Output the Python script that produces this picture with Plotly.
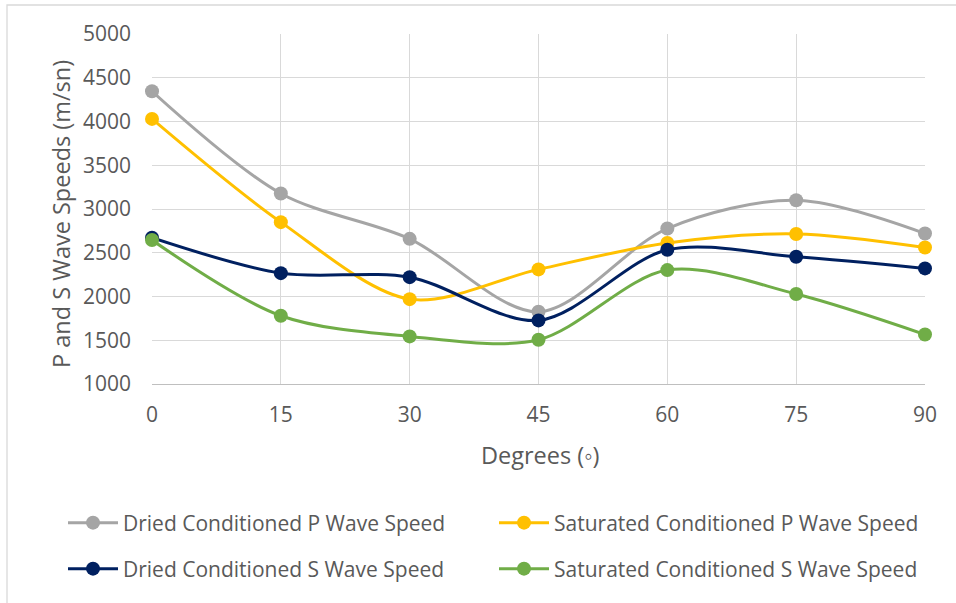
import plotly.graph_objects as go

degrees = [0, 15, 30, 45, 60, 75, 90]
dried_p = [4345, 3177, 2659, 1825, 2777, 3100, 2720]
saturated_p = [4030, 2850, 1970, 2310, 2612, 2715, 2560]
dried_s = [2672, 2267, 2221, 1727, 2534, 2454, 2321]
saturated_s = [2645, 1780, 1544, 1505, 2302, 2028, 1565]

series = [
    ("Dried Conditioned P Wave Speed", dried_p, "#A5A5A5", "legend"),
    ("Saturated Conditioned P Wave Speed", saturated_p, "#FFC000", "legend"),
    ("Dried Conditioned S Wave Speed", dried_s, "#002060", "legend2"),
    ("Saturated Conditioned S Wave Speed", saturated_s, "#70AD47", "legend2"),
]

FONT = "Open Sans"
TXT = "#595959"

fig = go.Figure()
for name, vals, col, lg in series:
    fig.add_trace(go.Scatter(
        x=degrees, y=vals, name=name, mode="lines+markers",
        line=dict(color=col, width=3, shape="spline", smoothing=0.9),
        marker=dict(color=col, size=14),
        cliponaxis=False, legend=lg,
    ))

W, H = 956, 603
L, R, T, B = 152, 31, 34, 219
pw, ph = W - L - R, H - T - B

def px(x):
    return (x - L) / pw

def py(y):
    return (H - B - y) / ph

def leg(ycen):
    return dict(
        orientation="h", x=px(63), y=py(ycen), xanchor="left", yanchor="middle",
        entrywidth=366, entrywidthmode="pixels",
        font=dict(family=FONT, size=21, color=TXT),
        itemwidth=50, traceorder="normal", bgcolor="rgba(0,0,0,0)",
    )

fig.update_layout(
    width=W, height=H,
    margin=dict(l=L, r=R, t=T, b=B, autoexpand=False),
    paper_bgcolor="white", plot_bgcolor="white",
    font=dict(family=FONT, size=21, color=TXT),
    showlegend=True,
    legend=leg(523),
    legend2=leg(569),
    xaxis=dict(
        range=[0, 90], tickvals=degrees, ticktext=[str(d) for d in degrees],
        showgrid=True, gridcolor="#D9D9D9", gridwidth=1.3,
        zeroline=False, showline=True, linecolor="#BFBFBF", linewidth=1.3,
        ticks="", ticklabelstandoff=12,
        tickfont=dict(family=FONT, size=21, color=TXT),
    ),
    yaxis=dict(
        range=[1000, 5000], dtick=500, tickformat="d",
        showgrid=True, gridcolor="#D9D9D9", gridwidth=1.3,
        zeroline=False, showline=False,
        ticks="", ticklabelstandoff=20,
        tickfont=dict(family=FONT, size=21, color=TXT),
    ),
    annotations=[
        dict(text="Degrees (◦)", x=px(540), y=py(455), xref="paper", yref="paper",
             showarrow=False, font=dict(family=FONT, size=23.5, color=TXT),
             xanchor="center", yanchor="middle"),
        dict(text="P and S Wave Speeds (m/sn)", x=px(61), y=py(214), xref="paper", yref="paper",
             showarrow=False, textangle=-90, font=dict(family=FONT, size=23.5, color=TXT),
             xanchor="center", yanchor="middle"),
    ],
    shapes=[
        dict(type="rect", xref="paper", yref="paper",
             x0=px(7), x1=px(970), y0=py(620), y1=py(5),
             line=dict(color="#D9D9D9", width=1.3), fillcolor="rgba(0,0,0,0)", layer="below"),
    ],
)

fig.write_html("out.html")
